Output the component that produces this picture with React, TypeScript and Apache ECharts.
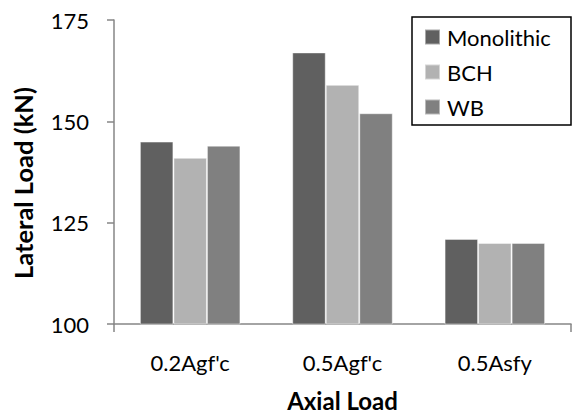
import React, { useEffect, useRef } from "react";
import * as echarts from "echarts";

// Peak lateral load for each axial load case and specimen type
const categories = ["0.2Agf'c", "0.5Agf'c", "0.5Asfy"];
const monolithic = [145, 167, 121];
const bch = [141, 159, 120];
const wb = [144, 152, 120];
const yTicks = { min: 100, max: 175, interval: 25 };

const FONT = "Lato, 'Noto Sans', sans-serif";
const AXIS_GRAY = "#868686";

export default function App() {
  const ref = useRef<HTMLDivElement>(null);

  useEffect(() => {
    if (!ref.current) return;
    const chart = echarts.init(ref.current, undefined, { renderer: "svg" });

    const barSeries = (name: string, data: number[], color: string) => ({
      name,
      type: "bar",
      data,
      barGap: "0%",
      barCategoryGap: "34%",
      itemStyle: { color, borderColor: "rgba(255,255,255,0.45)", borderWidth: 1 },
    });

    chart.setOption({
      animation: false,
      backgroundColor: "#ffffff",
      textStyle: { fontFamily: FONT },
      grid: { left: 114, right: 2, top: 20, bottom: 89 },
      legend: {
        orient: "vertical",
        left: 424,
        top: 25,
        padding: 0,
        itemWidth: 15,
        itemHeight: 15,
        itemGap: 11,
        icon: "rect",
        data: ["Monolithic", "BCH", "WB"],
        textStyle: {
          fontFamily: FONT,
          fontSize: 22,
          color: "#000",
          lineHeight: 24,
          padding: [0, 0, 0, 2],
        },
      },
      graphic: [
        {
          type: "rect",
          shape: { x: 412, y: 17, width: 159, height: 108 },
          style: { fill: "none", stroke: "#000", lineWidth: 1.5 },
          z: 10,
        },
        {
          type: "text",
          x: 23,
          y: 183,
          rotation: Math.PI / 2,
          style: {
            text: "Lateral Load (kN)",
            fontFamily: FONT,
            fontWeight: "bold",
            fontSize: 25.5,
            fill: "#000",
            align: "center",
            verticalAlign: "middle",
          },
        },
      ],
      xAxis: {
        type: "category",
        data: categories,
        name: "Axial Load",
        nameLocation: "middle",
        nameGap: 64,
        nameTextStyle: { fontFamily: FONT, fontWeight: "bold", fontSize: 24, color: "#000" },
        axisLine: { lineStyle: { color: AXIS_GRAY, width: 1.5 } },
        axisTick: {
          show: true,
          length: 8,
          interval: (i: number) => i === 0,
          lineStyle: { color: AXIS_GRAY, width: 1.5 },
        },
        axisLabel: { fontFamily: FONT, fontSize: 22, color: "#000", margin: 27 },
        splitLine: { show: false },
      },
      yAxis: {
        type: "value",
        min: yTicks.min,
        max: yTicks.max,
        interval: yTicks.interval,
        axisLine: { show: true, lineStyle: { color: AXIS_GRAY, width: 1.5 } },
        axisTick: { show: true, length: 7, lineStyle: { color: AXIS_GRAY, width: 1.5 } },
        axisLabel: { fontFamily: FONT, fontSize: 22, color: "#000", margin: 25 },
        splitLine: { show: false },
      },
      series: [
        barSeries("Monolithic", monolithic, "#606060"),
        barSeries("BCH", bch, "#b2b2b2"),
        barSeries("WB", wb, "#808080"),
      ],
    });

    return () => chart.dispose();
  }, []);

  return (
    <div
      ref={ref}
      style={{ position: "absolute", left: 0, top: 0, width: 573, height: 417 }}
    />
  );
}
